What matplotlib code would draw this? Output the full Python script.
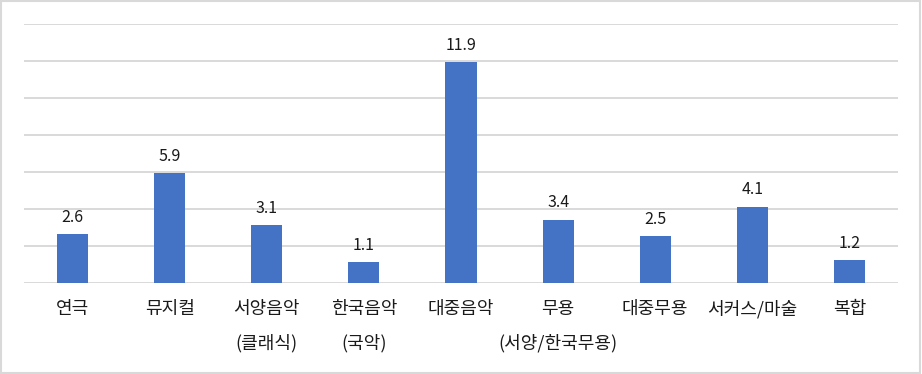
import matplotlib
matplotlib.use("Agg")
import matplotlib.pyplot as plt
from matplotlib.patches import Rectangle

plt.rcParams['font.family'] = ['Noto Sans CJK KR', 'DejaVu Sans']

# data
categories = ['연극', '뮤지컬', '서양음악\n(클래식)', '한국음악\n(국악)', '대중음악',
              '무용\n(서양/한국무용)', '대중무용', '서커스/마술', '복합']
values = [2.6, 5.9, 3.1, 1.1, 11.9, 3.4, 2.5, 4.1, 1.2]

fig = plt.figure(figsize=(9.22, 3.74), dpi=100)
ax = fig.add_axes([24 / 922, 91.5 / 374, 874 / 922, 259 / 374])

x = range(len(categories))
bars = ax.bar(x, values, width=0.32, color='#4472C4', zorder=3)

ax.set_xlim(-0.5, len(categories) - 0.5)
ax.set_ylim(0, 14)
ax.set_yticks(range(0, 15, 2))
ax.yaxis.grid(True, color='#D9D9D9', linewidth=1.4, zorder=0)
ax.tick_params(axis='y', left=False, labelleft=False)
ax.tick_params(axis='x', bottom=False, pad=9)
ax.set_xticks(list(x))
ax.set_xticklabels(categories, fontsize=13, linespacing=2.1, color='#1a1a1a', va='top')
for s in ax.spines.values():
    s.set_visible(False)

for b, v in zip(bars, values):
    ax.annotate(f'{v}', (b.get_x() + b.get_width() / 2, v), xytext=(0, 6),
                textcoords='offset points', ha='center', va='bottom',
                fontsize=11.5, color='#1a1a1a')

# light frame around the whole figure
fig.patches.append(Rectangle((0.001, 0.002), 0.997, 0.995, transform=fig.transFigure,
                             fill=False, edgecolor='#D9D9D9', linewidth=1.5))

fig.savefig('out.png', dpi=100)
